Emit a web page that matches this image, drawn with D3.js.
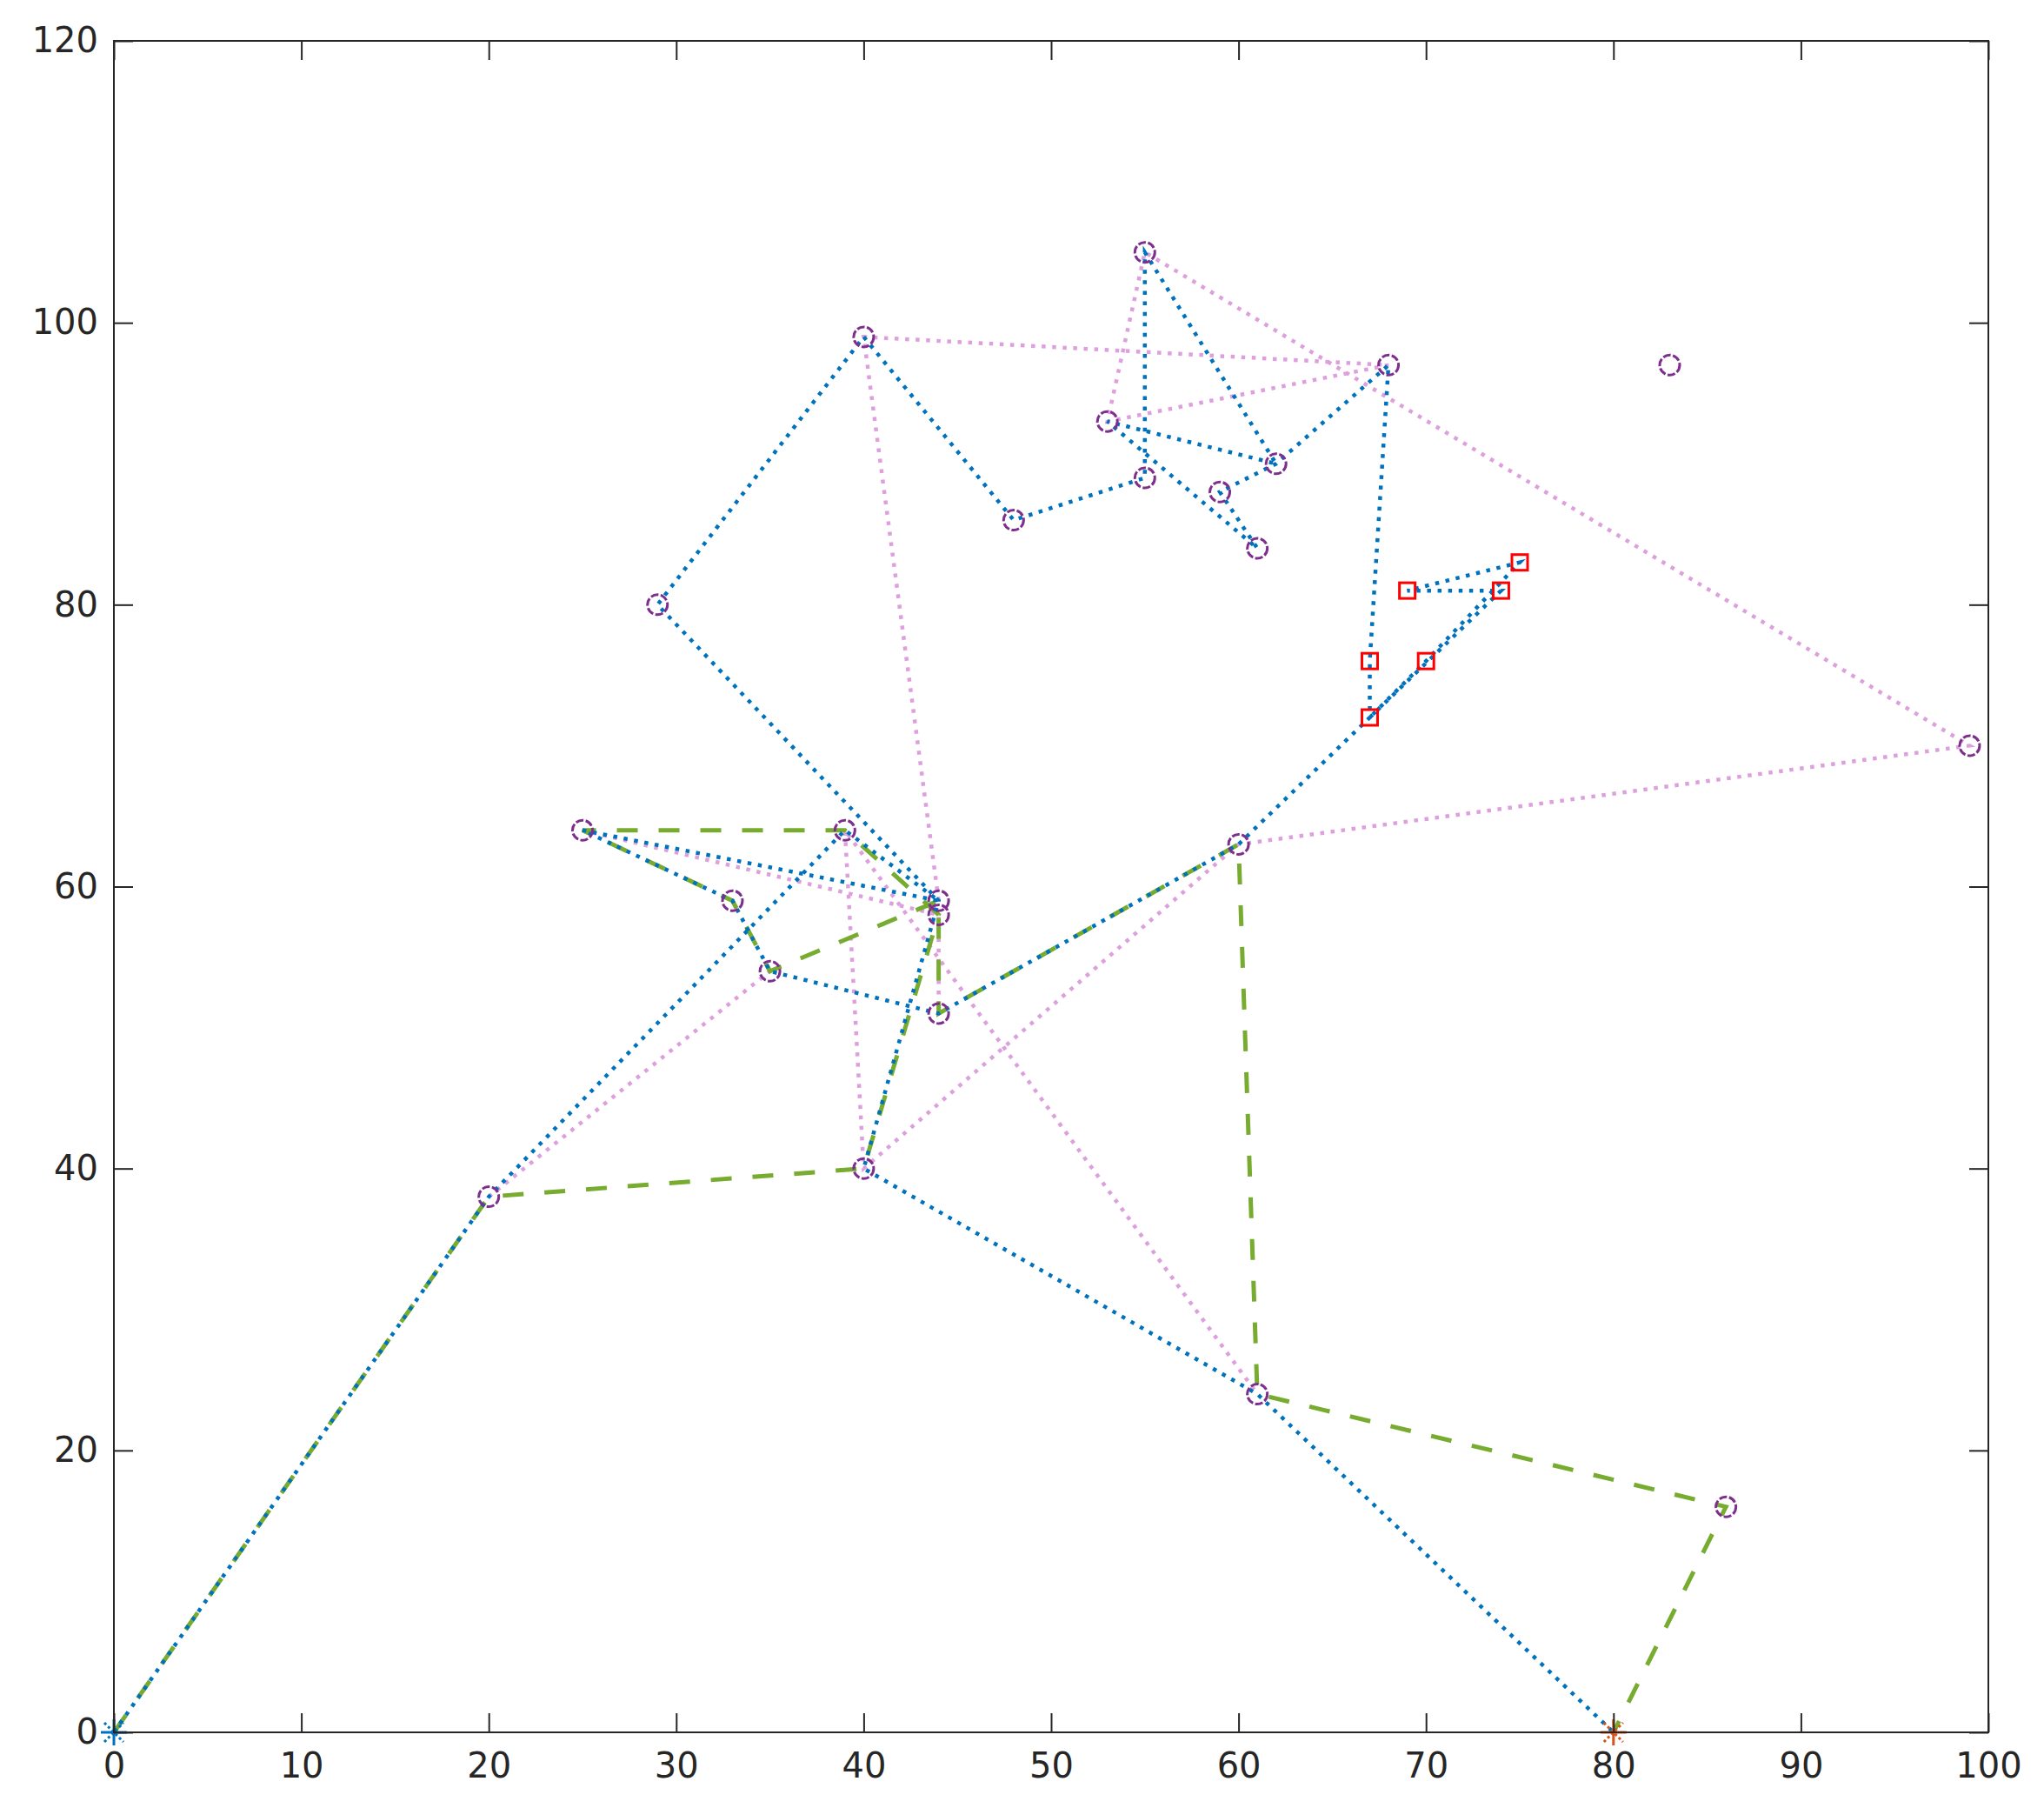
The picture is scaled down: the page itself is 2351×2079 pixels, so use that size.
<!DOCTYPE html>
<html>
<head>
<meta charset="utf-8">
<script src="https://cdn.jsdelivr.net/npm/d3@7"></script>
<style>
  html, body { margin: 0; padding: 0; background: #ffffff; }
  svg { display: block; }
</style>
</head>
<body>
<svg id="chart" width="2351" height="2079"></svg>
<script>
// ---------- data ----------
const xTicks = [0, 10, 20, 30, 40, 50, 60, 70, 80, 90, 100];
const yTicks = [0, 20, 40, 60, 80, 100, 120];

const startDepot = [0, 0];
const endDepot = [80, 0];

// customer nodes (purple circles)
const customers = [
  [20, 38], [25, 64], [33, 59], [35, 54], [39, 64], [44, 59], [44, 58], [44, 51],
  [40, 40], [29, 80], [40, 99], [48, 86], [55, 89], [53, 93], [55, 105], [62, 90],
  [59, 88], [61, 84], [68, 97], [83, 97], [99, 70], [60, 63], [61, 24], [86, 16]
];

// secondary nodes (red squares)
const subNodes = [[67, 76], [67, 72], [69, 81], [74, 81], [75, 83], [70, 76]];

// routes
const blueRoutes = [
  [[0, 0], [20, 38], [39, 64], [44, 59], [25, 64], [33, 59], [35, 54], [44, 51], [60, 63],
   [67, 72], [67, 76], [68, 97], [62, 90], [59, 88], [61, 84], [53, 93], [62, 90], [55, 105],
   [55, 89], [48, 86], [40, 99], [29, 80], [44, 59], [40, 40], [61, 24], [80, 0]],
  [[67, 72], [74, 81], [69, 81], [75, 83], [70, 76], [67, 72]]
];

const greenRoutes = [
  [[0, 0], [20, 38], [40, 40], [44, 58], [39, 64], [25, 64], [33, 59], [35, 54], [44, 59],
   [44, 51], [60, 63], [61, 24], [86, 16], [80, 0]]
];

const purpleRoutes = [
  [[20, 38], [35, 54]],
  [[25, 64], [44, 58], [44, 51]],
  [[44, 59], [40, 99], [68, 97], [53, 93], [55, 105], [99, 70], [60, 63], [40, 40], [39, 64], [61, 24]]
];

// ---------- layout ----------
const svg = d3.select("#chart");
const W = 2351, H = 2079;
const mLeft = 131, mRight = 2287, mTop = 47, mBottom = 1992;

svg.append("rect").attr("width", W).attr("height", H).attr("fill", "#ffffff");

const x = d3.scaleLinear().domain([0, 100]).range([mLeft, mRight]);
const y = d3.scaleLinear().domain([0, 120]).range([mBottom, mTop]);

const axisColor = "#262626";
const fontFamily = "'DejaVu Sans', sans-serif";

// ---------- lines ----------
const line = d3.line().x(d => x(d[0])).y(d => y(d[1]));
const plot = svg.append("g");

plot.selectAll("path.purple").data(purpleRoutes).join("path")
  .attr("class", "purple")
  .attr("d", line)
  .attr("fill", "none")
  .attr("stroke", "#DDA0DD")
  .attr("stroke-width", 4.5)
  .attr("stroke-dasharray", "4.5 7.6");

plot.selectAll("path.green").data(greenRoutes).join("path")
  .attr("class", "green")
  .attr("d", line)
  .attr("fill", "none")
  .attr("stroke", "#77AC30")
  .attr("stroke-width", 5)
  .attr("stroke-dasharray", "24 24");

plot.selectAll("path.blue").data(blueRoutes).join("path")
  .attr("class", "blue")
  .attr("d", line)
  .attr("fill", "none")
  .attr("stroke", "#0072BD")
  .attr("stroke-width", 4.5)
  .attr("stroke-dasharray", "4.5 7.6");

// ---------- markers ----------
plot.selectAll("circle.cust").data(customers).join("circle")
  .attr("class", "cust")
  .attr("cx", d => x(d[0]))
  .attr("cy", d => y(d[1]))
  .attr("r", 11.5)
  .attr("fill", "none")
  .attr("stroke", "#7E2F8E")
  .attr("stroke-width", 3)
  .attr("stroke-dasharray", "9 2.5");

const sq = 18;
plot.selectAll("rect.sub").data(subNodes).join("rect")
  .attr("class", "sub")
  .attr("x", d => x(d[0]) - sq / 2)
  .attr("y", d => y(d[1]) - sq / 2)
  .attr("width", sq)
  .attr("height", sq)
  .attr("fill", "none")
  .attr("stroke", "#FF0000")
  .attr("stroke-width", 3);

function asterisk(pt, color) {
  const g = plot.append("g").attr("transform", `translate(${x(pt[0])},${y(pt[1])})`);
  const a = 15, b = 11;
  g.append("path").attr("d", `M${-a},0H${a}M0,${-a}V${a}`)
    .attr("stroke", color).attr("stroke-width", 3).attr("fill", "none");
  g.append("path").attr("d", `M${-b},${-b}L${b},${b}M${-b},${b}L${b},${-b}`)
    .attr("stroke", color).attr("stroke-width", 3).attr("fill", "none")
    .attr("stroke-dasharray", "3 3");
}
asterisk(startDepot, "#0072BD");
asterisk(endDepot, "#D95319");

// ---------- axes ----------
const tickLen = 22;
function styleAxis(g) {
  g.select(".domain").remove();
  g.selectAll(".tick line").attr("stroke", axisColor).attr("stroke-width", 2);
  g.selectAll(".tick text").attr("fill", axisColor)
    .style("font-family", fontFamily).style("font-size", "40px");
}

svg.append("g").attr("transform", `translate(0,${mBottom})`)
  .call(d3.axisBottom(x).tickValues(xTicks).tickSizeInner(-tickLen).tickSizeOuter(0).tickPadding(24).tickFormat(d3.format("d")))
  .call(styleAxis);

svg.append("g").attr("transform", `translate(0,${mTop})`)
  .call(d3.axisTop(x).tickValues(xTicks).tickSizeInner(-tickLen).tickSizeOuter(0).tickFormat(""))
  .call(styleAxis);

svg.append("g").attr("transform", `translate(${mLeft},0)`)
  .call(d3.axisLeft(y).tickValues(yTicks).tickSizeInner(-tickLen).tickSizeOuter(0).tickPadding(18).tickFormat(d3.format("d")))
  .call(styleAxis);

svg.append("g").attr("transform", `translate(${mRight},0)`)
  .call(d3.axisRight(y).tickValues(yTicks).tickSizeInner(-tickLen).tickSizeOuter(0).tickFormat(""))
  .call(styleAxis);

svg.append("rect")
  .attr("x", mLeft).attr("y", mTop)
  .attr("width", mRight - mLeft).attr("height", mBottom - mTop)
  .attr("fill", "none").attr("stroke", axisColor).attr("stroke-width", 2);
</script>
</body>
</html>
